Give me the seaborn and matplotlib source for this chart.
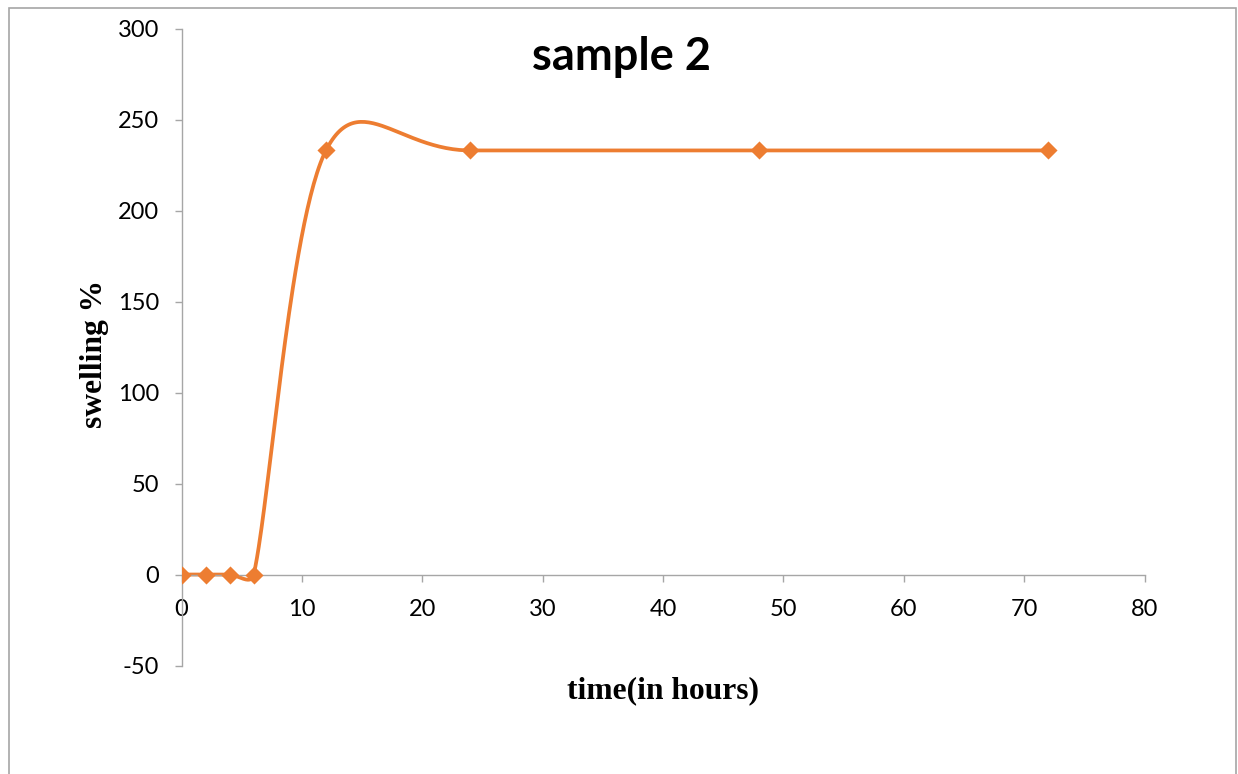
import numpy as np
import matplotlib
matplotlib.use("Agg")
import matplotlib.pyplot as plt
from matplotlib.patches import Rectangle
import seaborn as sns

# ---- data ----
time_hours = [0, 2, 4, 6, 12, 24, 48, 72]
swelling_pct = [0, 0, 0, 0, 233, 233, 233, 233]
x_ticks = [0, 10, 20, 30, 40, 50, 60, 70, 80]
y_ticks = [-50, 0, 50, 100, 150, 200, 250, 300]
title_text = "sample 2"
x_label = "time(in hours)"
y_label = "swelling %"

ORANGE = "#ED7D31"
GRAY = "#a6a6a6"
W, H = 1238, 774

sns.set_style("white")
plt.rcParams["font.family"] = ["Lato", "DejaVu Sans"]
plt.rcParams["axes.unicode_minus"] = False
plt.rcParams["text.color"] = "black"

fig = plt.figure(figsize=(W / 100, H / 100), dpi=100)
ax = fig.add_axes([181.5 / W, 1 - 665.5 / H, (1144.5 - 181.5) / W, (665.5 - 28.5) / H])
ax.set_xlim(0, 80)
ax.set_ylim(-50, 300)


def excel_smooth(ax, xs, ys, n=60):
    """Excel-like smoothed Bezier through points, computed in display space."""
    pts = ax.transData.transform(np.column_stack([xs, ys]))
    out = [pts[0]]
    m = len(pts)
    for i in range(m - 1):
        p1, p2 = pts[i], pts[i + 1]
        p0 = pts[i - 1] if i > 0 else p1
        p3 = pts[i + 2] if i + 2 < m else p2
        seg = np.linalg.norm(p2 - p1)
        t1 = (p2 - p0) / 6.0
        t2 = (p3 - p1) / 6.0
        for t in (t1, t2):
            L = np.linalg.norm(t)
            if L > seg / 2 and L > 0:
                t *= (seg / 2) / L
        c1 = p1 + t1
        c2 = p2 - t2
        tt = np.linspace(0, 1, n)[1:, None]
        b = ((1 - tt) ** 3) * p1 + 3 * ((1 - tt) ** 2) * tt * c1 + 3 * (1 - tt) * tt ** 2 * c2 + tt ** 3 * p2
        out.extend(b)
    out = np.array(out)
    d = ax.transData.inverted().transform(out)
    return d[:, 0], d[:, 1]


cx, cy = excel_smooth(ax, time_hours, swelling_pct)
sns.lineplot(x=cx, y=cy, sort=False, estimator=None, color=ORANGE, linewidth=2.7, ax=ax)
sns.scatterplot(x=time_hours, y=swelling_pct, marker="D", s=85, color=ORANGE,
                linewidth=0, ax=ax, zorder=3)

ax.set_xlim(0, 80)
ax.set_ylim(-50, 300)
ax.set_xticks(x_ticks)
ax.set_yticks(y_ticks)
ax.set_xlabel("")
ax.set_ylabel("")

for s in ("top", "right"):
    ax.spines[s].set_visible(False)
ax.spines["bottom"].set_position(("data", 0))
for s in ("left", "bottom"):
    ax.spines[s].set_color(GRAY)
    ax.spines[s].set_linewidth(1.0)
ax.tick_params(axis="both", which="major", direction="out", length=5, width=1.0,
               color=GRAY, labelsize=17, labelcolor="black")
ax.tick_params(axis="y", pad=11)
ax.tick_params(axis="x", pad=13)
ax.tick_params(left=True, bottom=True)

fig.text(622 / W, 1 - 70 / H, title_text, ha="center", va="baseline", color="black",
         fontsize=32.5, fontweight="bold", family=["Lato", "DejaVu Sans"])
fig.text(663 / W, 1 - 698 / H, x_label, ha="center", va="baseline", color="black",
         fontsize=22.7, fontweight="bold", family=["Liberation Serif", "DejaVu Serif"])
fig.text(95 / W, 1 - 354 / H, y_label, ha="center", va="center", rotation=90, color="black",
         fontsize=22.7, fontweight="bold", family=["Liberation Serif", "DejaVu Serif"])

# outer chart frame
fig.add_artist(Rectangle((8.5 / W, -0.05), (1236 - 8.5) / W, 1.05 - 7.5 / H,
                         transform=fig.transFigure, fill=False, edgecolor=GRAY,
                         linewidth=1.2, clip_on=False))

fig.savefig("out.png", dpi=100)
